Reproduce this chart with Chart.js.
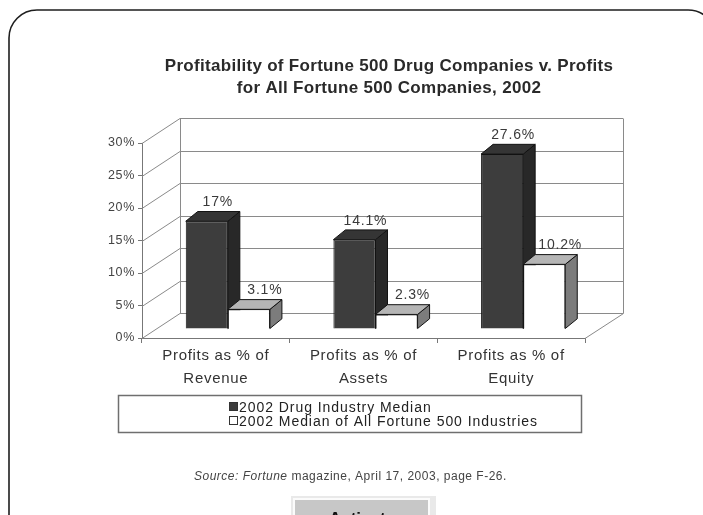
<!DOCTYPE html>
<html>
<head>
<meta charset="utf-8">
<script src="https://cdn.jsdelivr.net/npm/chart.js@4.4.1/dist/chart.umd.min.js"></script>
<style>
  html, body { margin: 0; padding: 0; background: #fff; overflow: hidden; }
  #wrap { position: relative; width: 703px; height: 515px; }
</style>
</head>
<body>
<div id="wrap"><canvas id="chart" width="703" height="515"></canvas></div>
<script>
// ---------- Data ----------
const categories = [
  ["Profits as % of", "Revenue"],
  ["Profits as % of", "Assets"],
  ["Profits as % of", "Equity"],
];
const drugMedian = [17, 14.1, 27.6];
const allMedian = [3.1, 2.3, 10.2];
const seriesNames = ["2002 Drug Industry Median", "2002 Median of All Fortune 500 Industries"];
const titleLines = [
  "Profitability of Fortune 500 Drug Companies v. Profits",
  "for All Fortune 500 Companies, 2002",
];
const yMax = 30;
const yStep = 5;

// ---------- Look ----------
const FONT = "'Liberation Sans', Arial, Helvetica, sans-serif";
const WALL = { dx: 38, dy: -25 };          // back wall offset from front axes
const BAR = { dx: 12, dy: -9, sy: 0.975 }; // plane the bar fronts sit on
const FACE = { dx: 12, dy: -10 };          // depth of each bar
const faceColors = [
  { front: "#3d3d3d", top: "#353535", side: "#282828", labelDx: 11 },
  { front: "#ffffff", top: "#b5b5b5", side: "#7c7c7c", labelDx: 16 },
];

function poly(ctx, pts) {
  ctx.beginPath();
  ctx.moveTo(pts[0][0], pts[0][1]);
  for (let i = 1; i < pts.length; i++) ctx.lineTo(pts[i][0], pts[i][1]);
  ctx.closePath();
  ctx.fill();
  ctx.stroke();
}

// ---------- 3D walls, bar faces, labels ----------
const threeD = {
  id: "threeD",
  beforeDraw(chart) {
    const ctx = chart.ctx;
    ctx.save();
    ctx.fillStyle = "#ffffff";
    ctx.fillRect(0, 0, chart.width, chart.height);
    // page frame
    ctx.strokeStyle = "#1e1e1e";
    ctx.lineWidth = 1.6;
    ctx.beginPath();
    ctx.roundRect(9, 10, 707, 560, 28);
    ctx.stroke();
    ctx.restore();
    // the scan's lettering runs a little wide
    ctx.letterSpacing = "0.7px";
  },
  beforeDatasetsDraw(chart) {
    const { ctx, chartArea: a } = chart;
    const y = chart.scales.y;
    const zero = y.getPixelForValue(0);
    ctx.save();
    ctx.strokeStyle = "#8a8a8a";
    ctx.lineWidth = 1;
    ctx.beginPath();
    y.ticks.forEach((t) => {
      const py = Math.round(y.getPixelForValue(t.value)) + 0.5;
      ctx.moveTo(a.left, py);
      ctx.lineTo(a.left + WALL.dx, py + WALL.dy);
      ctx.lineTo(a.right + WALL.dx, py + WALL.dy);
    });
    const top = Math.round(y.getPixelForValue(yMax)) + 0.5 + WALL.dy;
    const bot = Math.round(zero) + 0.5 + WALL.dy;
    ctx.moveTo(a.left + WALL.dx + 0.5, top);
    ctx.lineTo(a.left + WALL.dx + 0.5, bot);
    ctx.moveTo(a.right + WALL.dx + 0.5, top);
    ctx.lineTo(a.right + WALL.dx + 0.5, bot);
    ctx.moveTo(a.right, Math.round(zero) + 0.5);
    ctx.lineTo(a.right + WALL.dx + 0.5, bot);
    ctx.stroke();
    ctx.restore();

    // move into the bar plane; restored in afterDatasetsDraw
    ctx.save();
    ctx.translate(BAR.dx, BAR.dy + zero * (1 - BAR.sy));
    ctx.scale(1, BAR.sy);
    ctx.strokeStyle = "#111";
    ctx.lineWidth = 1;
    chart.data.datasets.forEach((ds, i) => {
      chart.getDatasetMeta(i).data.forEach((bar) => {
        const p = bar.getProps(["x", "y", "base", "width"], true);
        const l = p.x - p.width / 2;
        const r = p.x + p.width / 2;
        ctx.fillStyle = faceColors[i].side;
        poly(ctx, [[r, p.y], [r + FACE.dx, p.y + FACE.dy], [r + FACE.dx, p.base + FACE.dy], [r, p.base]]);
        ctx.fillStyle = faceColors[i].top;
        poly(ctx, [[l, p.y], [l + FACE.dx, p.y + FACE.dy], [r + FACE.dx, p.y + FACE.dy], [r, p.y]]);
      });
    });
  },
  afterDatasetsDraw(chart) {
    const ctx = chart.ctx;
    ctx.restore();
    const zero = chart.scales.y.getPixelForValue(0);
    ctx.save();
    ctx.font = "14px " + FONT;
    ctx.letterSpacing = "0.8px";
    ctx.fillStyle = "#3a3a3a";
    ctx.textAlign = "center";
    ctx.textBaseline = "alphabetic";
    chart.data.datasets.forEach((ds, i) => {
      chart.getDatasetMeta(i).data.forEach((bar, j) => {
        const p = bar.getProps(["x", "y"], true);
        const sx = p.x + BAR.dx + faceColors[i].labelDx;
        const sy = BAR.dy + zero * (1 - BAR.sy) + p.y * BAR.sy + FACE.dy - 5;
        ctx.fillText(ds.data[j] + "%", sx, sy);
      });
    });
    ctx.restore();
  },
  afterDraw(chart) {
    const ctx = chart.ctx;
    ctx.save();
    // title
    ctx.fillStyle = "#2a2a2a";
    ctx.font = "bold 17px " + FONT;
    ctx.letterSpacing = "0.3px";
    ctx.textAlign = "center";
    ctx.textBaseline = "middle";
    ctx.fillText(titleLines[0], 389, 66);
    ctx.fillText(titleLines[1], 389, 88);

    // legend
    ctx.strokeStyle = "#6f6f6f";
    ctx.lineWidth = 1.5;
    ctx.strokeRect(118.5, 395.5, 463, 37);
    ctx.textAlign = "left";
    ctx.font = "14px " + FONT;
    ctx.letterSpacing = "0.95px";
    chart.data.datasets.forEach((ds, i) => {
      const cy = 407 + i * 14;
      ctx.fillStyle = ds.backgroundColor;
      ctx.strokeStyle = "#333";
      ctx.lineWidth = 1;
      ctx.fillRect(229.5, cy - 4.5, 8, 8);
      ctx.strokeRect(229.5, cy - 4.5, 8, 8);
      ctx.fillStyle = "#222";
      ctx.fillText(ds.label, 239, cy + 1);
    });

    // source
    ctx.fillStyle = "#444";
    ctx.textBaseline = "middle";
    ctx.letterSpacing = "0.5px";
    let x = 194;
    const parts = [["Source:", true], [" Fortune", true], [" magazine, April 17, 2003, page F-26.", false]];
    parts.forEach(([txt, it]) => {
      ctx.font = (it ? "italic " : "") + "12px " + FONT;
      ctx.fillText(txt, x, 477);
      x += ctx.measureText(txt).width;
    });

    // bottom button
    ctx.fillStyle = "#e9e9e9";
    ctx.fillRect(291, 496, 145, 19);
    ctx.fillStyle = "#fbfbfb";
    ctx.fillRect(293, 498, 137, 17);
    ctx.fillStyle = "#c7c7c7";
    ctx.fillRect(295, 500, 133, 15);
    ctx.fillStyle = "#111";
    ctx.font = "bold 17px " + FONT;
    ctx.letterSpacing = "0px";
    ctx.textAlign = "center";
    ctx.textBaseline = "alphabetic";
    ctx.fillText("Activate", 362, 524);
    ctx.restore();
  },
};

// ---------- Chart ----------
new Chart(document.getElementById("chart"), {
  type: "bar",
  data: {
    labels: categories,
    datasets: [
      {
        label: seriesNames[0],
        data: drugMedian,
        backgroundColor: faceColors[0].front,
        borderColor: "#111",
        borderWidth: 1,
        categoryPercentage: 0.57,
        barPercentage: 1,
        clip: false,
      },
      {
        label: seriesNames[1],
        data: allMedian,
        backgroundColor: faceColors[1].front,
        borderColor: "#111",
        borderWidth: 1,
        categoryPercentage: 0.57,
        barPercentage: 1,
        clip: false,
      },
    ],
  },
  options: {
    responsive: false,
    animation: false,
    devicePixelRatio: 1,
    layout: { padding: { left: 90, right: 118, top: 143, bottom: 117 } },
    plugins: {
      legend: { display: false },
      title: { display: false },
      tooltip: { enabled: false },
    },
    scales: {
      x: {
        grid: { drawOnChartArea: false, drawTicks: true, tickLength: 5, color: "#777", offset: true },
        border: { display: true, color: "#777" },
        ticks: {
          font: { family: FONT, size: 15, lineHeight: 1.55 },
          color: "#333",
          padding: 1,
          maxRotation: 0,
          autoSkip: false,
        },
        afterFit: (s) => { s.height = 60; },
      },
      y: {
        min: 0,
        max: yMax,
        ticks: {
          stepSize: yStep,
          callback: (v) => v + "%",
          font: { family: FONT, size: 12.5 },
          color: "#444",
          padding: 3,
        },
        grid: { drawOnChartArea: false, drawTicks: true, tickLength: 4, color: "#777" },
        border: { display: true, color: "#777" },
        afterFit: (s) => { s.width = 52; },
      },
    },
  },
  plugins: [threeD],
});
</script>
</body>
</html>
